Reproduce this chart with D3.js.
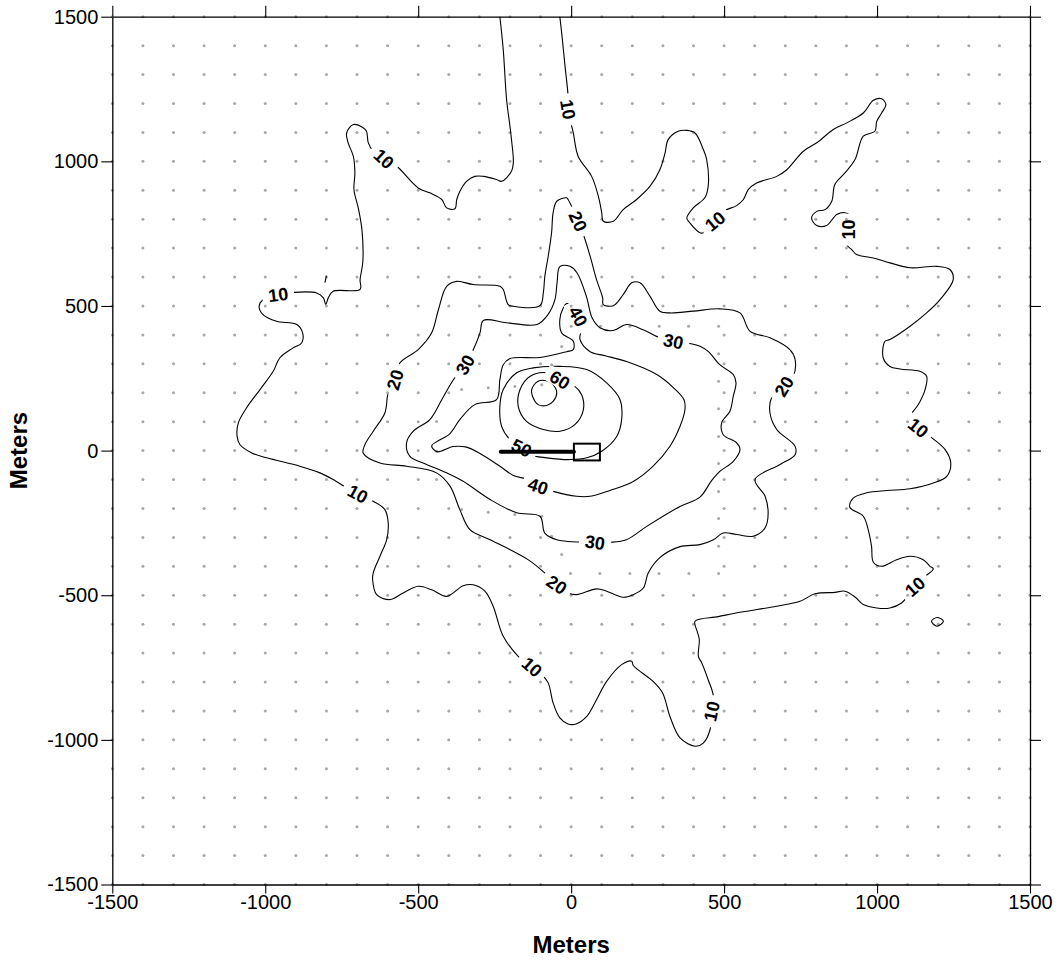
<!DOCTYPE html>
<html>
<head>
<meta charset="utf-8">
<script src="https://cdn.jsdelivr.net/npm/d3@7/dist/d3.min.js"></script>
<style>
  body { margin: 0; background: #fff; }
  svg { display: block; font-family: "Liberation Sans", Arial, sans-serif; }
</style>
</head>
<body>
<svg id="chart" width="1060" height="962"></svg>
<script>
// axis ticks (meters)
var tickValues = [-1500, -1000, -500, 0, 500, 1000, 1500];

// contour lines, [x, y] in meters
var c10 = [[-233,1500],[-222,1386],[-211,1213],[-200,1121],[-195,1075],[-189,995],[-195,966],[-227,931],[-244,937],[-287,948],[-315,948],[-342,931],[-364,896],[-374,868],[-380,836],[-407,839],[-423,868],[-462,891],[-500,908],[-576,989],[-647,1035],[-663,1064],[-669,1104],[-680,1116],[-712,1127],[-734,1098],[-729,1064],[-712,1017],[-707,960],[-710,902],[-696,839],[-684,764],[-681,653],[-690,591],[-690,557],[-778,551],[-794,528],[-802,505],[-810,528],[-832,545],[-909,547],[-958,539],[-1007,522],[-1020,499],[-1007,470],[-963,447],[-897,436],[-878,407],[-881,372],[-909,355],[-952,321],[-974,274],[-1017,211],[-1061,148],[-1088,96],[-1092,49],[-1083,21],[-1044,-8],[-995,-25],[-887,-54],[-821,-77],[-778,-100],[-729,-132],[-697,-149],[-647,-175],[-609,-204],[-598,-250],[-603,-308],[-625,-365],[-647,-423],[-649,-446],[-636,-498],[-592,-515],[-549,-492],[-500,-469],[-456,-481],[-407,-504],[-353,-467],[-320,-464],[-282,-486],[-255,-538],[-222,-642],[-173,-711],[-129,-748],[-96,-774],[-75,-803],[-59,-872],[-37,-924],[-10,-945],[16,-945],[51,-919],[83,-861],[116,-798],[165,-740],[198,-728],[203,-743],[268,-798],[299,-838],[323,-919],[356,-993],[405,-1022],[432,-1011],[454,-965],[459,-901],[465,-849],[448,-792],[427,-734],[416,-711],[419,-653],[412,-625],[405,-590],[481,-574],[552,-559],[672,-538],[748,-521],[797,-495],[862,-490],[895,-486],[928,-506],[955,-532],[999,-544],[1042,-544],[1080,-527],[1124,-469],[1157,-435],[1184,-409],[1173,-400],[1151,-377],[1108,-365],[1064,-377],[1015,-400],[988,-386],[982,-331],[971,-273],[955,-227],[911,-196],[922,-164],[966,-146],[1031,-138],[1108,-132],[1184,-112],[1228,-89],[1241,-43],[1222,4],[1173,49],[1135,79],[1102,107],[1135,159],[1157,211],[1162,257],[1140,274],[1075,282],[1042,291],[1020,321],[1026,378],[1042,384],[1108,430],[1162,476],[1206,522],[1249,591],[1238,626],[1195,637],[1108,632],[1042,649],[988,666],[933,678],[917,695],[901,712],[906,764],[917,804],[895,822],[868,816],[857,804],[835,778],[803,778],[786,804],[803,827],[830,833],[852,862],[862,920],[895,960],[928,1006],[955,1087],[993,1104],[999,1138],[1015,1167],[1029,1196],[1015,1216],[988,1211],[955,1167],[901,1133],[857,1110],[803,1064],[759,1035],[705,971],[672,948],[606,925],[579,902],[563,868],[541,847],[497,827],[470,793],[432,753],[421,753],[388,787],[378,804],[399,839],[437,874],[448,914],[443,1006],[432,1041],[405,1098],[378,1107],[350,1104],[317,1075],[307,1029],[290,971],[258,914],[214,868],[170,833],[138,793],[105,793],[100,822],[89,879],[67,948],[23,1017],[7,1098],[-10,1179],[-10,1225],[-20,1329],[-31,1444],[-37,1500]];
var c10bit = [[-800,605],[-805,581]];
var c10diamond = [[1178,-590],[1196,-577],[1217,-590],[1196,-607]];
var c20 = [[-15,874],[-10,868],[23,793],[40,747],[62,672],[83,591],[103,528],[105,505],[138,501],[170,539],[198,580],[225,580],[258,533],[290,482],[323,476],[399,482],[486,490],[552,476],[585,412],[650,390],[715,349],[732,315],[726,257],[696,222],[655,182],[650,130],[672,73],[732,15],[732,-14],[683,-48],[601,-100],[634,-158],[644,-215],[634,-267],[595,-296],[541,-290],[497,-285],[465,-308],[421,-325],[356,-332],[290,-370],[252,-423],[236,-475],[203,-498],[170,-507],[116,-486],[83,-478],[18,-498],[-10,-492],[-47,-463],[-80,-429],[-141,-377],[-265,-308],[-331,-273],[-364,-204],[-396,-123],[-440,-77],[-538,-54],[-625,-43],[-680,-8],[-674,21],[-647,67],[-609,130],[-598,200],[-576,245],[-560,303],[-500,349],[-456,407],[-434,487],[-407,568],[-374,585],[-320,574],[-233,568],[-222,557],[-206,505],[-189,499],[-102,501],[-91,545],[-86,603],[-75,672],[-64,753],[-59,822],[-47,862]];
var c30 = [[-37,636],[-46,581],[-53,522],[-76,470],[-112,436],[-211,442],[-287,450],[-298,407],[-320,349],[-347,297],[-385,245],[-423,176],[-462,107],[-516,67],[-538,27],[-527,-20],[-484,-43],[-407,-77],[-353,-106],[-265,-169],[-178,-215],[-102,-227],[-86,-285],[-47,-308],[78,-317],[127,-317],[181,-308],[247,-262],[356,-193],[421,-161],[459,-104],[486,-72],[530,-37],[552,4],[541,27],[497,55],[492,96],[519,136],[530,188],[539,234],[530,263],[486,297],[448,343],[421,361],[378,372],[334,378],[281,394],[235,418],[182,436],[137,415],[94,425],[68,460],[51,529],[19,615],[-4,637]];
var c40 = [[-15,508],[3,501],[23,464],[32,418],[29,384],[62,342],[111,328],[181,308],[280,263],[334,218],[369,176],[372,142],[356,84],[323,15],[268,-54],[203,-107],[127,-138],[62,-158],[18,-158],[-59,-141],[-108,-123],[-141,-100],[-189,-86],[-233,-54],[-298,-10],[-342,12],[-385,14],[-439,-4],[-456,17],[-439,31],[-396,59],[-364,107],[-315,159],[-244,176],[-233,245],[-222,297],[-200,318],[-102,322],[-15,342],[7,349],[7,378],[-31,407],[-37,453],[-26,493]];
var c50 = [[-200,38],[-227,83],[-233,153],[-222,211],[-178,269],[-124,286],[-37,291],[51,280],[116,234],[160,176],[165,107],[149,49],[100,-2],[51,-25],[-4,-31],[-80,-25],[-135,-14],[-162,9]];
var c60 = [[-80,269],[-135,256],[-167,211],[-173,153],[-146,101],[-91,73],[-37,67],[12,90],[40,142],[34,194],[12,222],[-37,245]];
var c70 = [[-108,240],[-129,211],[-124,182],[-108,159],[-80,156],[-59,170],[-47,200],[-59,228],[-75,240]];

// contour labels: value and position (meters)
var labelValues = [10, 10, 10, 10, 10, 10, 10, 10, 10, 10, 20, 20, 20, 20, 30, 30, 30, 40, 40, 50, 60];
var labelX = [-612, -10, 470, 906, 1135, 1124, 459, -128, -697, -958, 23, 696, -47, -576, -347, 78, 334, 23, -108, -162, -37];
var labelY = [1009, 1179, 793, 764, 79, -470, -901, -748, -149, 539, 793, 222, -463, 245, 297, -317, 378, 464, -123, 9, 245];

// property-line receptors (meters), in order around the fence
var fenceLine = [[-31,360],[0,430],[96,430],[192,430],[288,430],[384,430],[482,430],[482,335],[482,240],[482,145],[482,49],[482,-45],[482,-141],[482,-235],[482,-331],[482,-425],[385,-425],[287,-425],[192,-425],[94,-425],[-2,-425],[-31,-359],[-64,-296],[-96,-227],[-184,-221],[-271,-213],[-358,-204],[-440,-100],[-440,-2],[-440,101],[-358,211],[-271,217],[-184,222],[-96,228],[-64,297]];

// source: stack line and building
var stackLine = [[-230,-4],[9,-4]];
var building = [[9,24],[94,-34]];

var contours = [
    {level: 10, pts: c10, closed: false},
    {level: 10, pts: c10bit, closed: false},
    {level: 10, pts: c10diamond, closed: true},
    {level: 20, pts: c20, closed: true},
    {level: 30, pts: c30, closed: true},
    {level: 40, pts: c40, closed: true},
    {level: 50, pts: c50, closed: true},
    {level: 60, pts: c60, closed: true},
    {level: 70, pts: c70, closed: true}
];

var svg = d3.select('#chart');
var x = d3.scaleLinear().domain([-1500, 1500]).range([112.3, 1030]);
var y = d3.scaleLinear().domain([-1500, 1500]).range([884.5, 16.7]);

// receptor grid, minus the points inside the property line
var grid = [];
d3.range(-1500, 1501, 100).forEach(function (gx) {
    d3.range(-1500, 1501, 100).forEach(function (gy) {
        if (!d3.polygonContains(fenceLine, [gx, gy])) grid.push([gx, gy]);
    });
});
var receptors = grid.concat(fenceLine);

svg.append('g')
    .selectAll('circle')
    .data(receptors)
    .join('circle')
    .attr('cx', d => x(d[0]))
    .attr('cy', d => y(d[1]))
    .attr('r', 1.5)
    .attr('fill', '#a8a8a8');

// axes
function styleAxis(g) {
    g.selectAll('path.domain').attr('stroke', '#000').attr('stroke-width', 1.3);
    g.selectAll('.tick line').attr('stroke', '#000').attr('stroke-width', 1.1);
    g.selectAll('.tick text').attr('fill', '#000').style('font-size', '20px')
        .style('font-family', '"Liberation Sans", Arial, sans-serif');
}
svg.append('g').attr('transform', 'translate(112.3,0)')
    .call(d3.axisLeft(y).tickValues(tickValues).tickSize(11).tickSizeOuter(0).tickPadding(3).tickFormat(d => String(d)))
    .call(styleAxis);
svg.append('g').attr('transform', 'translate(0,884.5)')
    .call(d3.axisBottom(x).tickValues(tickValues).tickSize(9).tickSizeOuter(0).tickPadding(1).tickFormat(d => String(d)))
    .call(styleAxis);
svg.append('g').attr('transform', 'translate(0,16.7)')
    .call(d3.axisTop(x).tickValues(tickValues).tickSize(11).tickSizeOuter(0).tickFormat(() => ''))
    .call(styleAxis);
svg.append('g').attr('transform', 'translate(1030,0)')
    .call(d3.axisRight(y).tickValues(tickValues).tickSize(11).tickSizeOuter(0).tickFormat(() => ''))
    .call(styleAxis);

svg.append('text')
    .attr('x', x(0)).attr('y', 953)
    .attr('text-anchor', 'middle')
    .style('font-size', '24px').style('font-weight', 'bold')
    .text('Meters');
svg.append('text')
    .attr('transform', 'translate(27,' + y(0) + ') rotate(-90)')
    .attr('text-anchor', 'middle')
    .style('font-size', '24px').style('font-weight', 'bold')
    .text('Meters');

// label angle along the nearest contour of the same level
function labelAngle(v, px, py) {
    var best = [1, 0], bd = Infinity;
    contours.filter(c => c.level === v).forEach(function (c) {
        var p = c.pts.map(d => [x(d[0]), y(d[1])]);
        var n = p.length;
        var segs = c.closed ? n : n - 1;
        for (var i = 0; i < segs; i++) {
            var a = p[i], b = p[(i + 1) % n];
            var dx = b[0] - a[0], dy = b[1] - a[1];
            var t = ((px - a[0]) * dx + (py - a[1]) * dy) / (dx * dx + dy * dy || 1);
            t = Math.max(0, Math.min(1, t));
            var qx = a[0] + t * dx, qy = a[1] + t * dy;
            var dd = (px - qx) * (px - qx) + (py - qy) * (py - qy);
            if (dd < bd) {
                bd = dd;
                var i0 = c.closed ? (i - 1 + n) % n : Math.max(0, i - 1);
                var i1 = c.closed ? (i + 2) % n : Math.min(n - 1, i + 2);
                best = [p[i1][0] - p[i0][0], p[i1][1] - p[i0][1]];
            }
        }
    });
    var ang = Math.atan2(best[1], best[0]) * 180 / Math.PI;
    if (ang > 90) ang -= 180;
    if (ang < -90) ang += 180;
    return ang;
}

var labels = labelValues.map(function (v, i) {
    var px = x(labelX[i]), py = y(labelY[i]);
    return {v: v, px: px, py: py, ang: labelAngle(v, px, py)};
});

// gaps in the lines under the labels
var gapMask = svg.append('defs').append('mask').attr('id', 'gaps')
    .attr('maskUnits', 'userSpaceOnUse')
    .attr('x', 0).attr('y', 0).attr('width', 1060).attr('height', 962);
gapMask.append('rect').attr('width', 1060).attr('height', 962).attr('fill', '#fff');
gapMask.selectAll('rect.gap')
    .data(labels)
    .join('rect')
    .attr('class', 'gap')
    .attr('x', -16).attr('y', -8).attr('width', 32).attr('height', 16)
    .attr('fill', '#000')
    .attr('transform', d => 'translate(' + d.px + ',' + d.py + ') rotate(' + d.ang + ')');

var contourLine = d3.line().x(d => x(d[0])).y(d => y(d[1])).curve(d3.curveCatmullRom.alpha(0.5));
var closedLine = d3.line().x(d => x(d[0])).y(d => y(d[1])).curve(d3.curveCatmullRomClosed.alpha(0.5));

svg.append('g')
    .attr('mask', 'url(#gaps)')
    .selectAll('path')
    .data(contours)
    .join('path')
    .attr('d', d => d.closed ? closedLine(d.pts) : contourLine(d.pts))
    .attr('fill', 'none')
    .attr('stroke', '#000')
    .attr('stroke-width', 1.1)
    .attr('stroke-linejoin', 'round');

svg.append('g')
    .selectAll('text')
    .data(labels)
    .join('text')
    .attr('transform', d => 'translate(' + d.px + ',' + d.py + ') rotate(' + d.ang + ')')
    .attr('text-anchor', 'middle')
    .attr('dy', '0.36em')
    .style('font-size', '18px')
    .style('font-weight', 'bold')
    .text(d => d.v);

// source
svg.append('line')
    .attr('x1', x(stackLine[0][0])).attr('y1', y(stackLine[0][1]))
    .attr('x2', x(stackLine[1][0])).attr('y2', y(stackLine[1][1]))
    .attr('stroke', '#000').attr('stroke-width', 4).attr('stroke-linecap', 'round');
svg.append('rect')
    .attr('x', x(building[0][0])).attr('y', y(building[0][1]))
    .attr('width', x(building[1][0]) - x(building[0][0]))
    .attr('height', y(building[1][1]) - y(building[0][1]))
    .attr('fill', 'none').attr('stroke', '#000').attr('stroke-width', 2);
</script>
</body>
</html>
